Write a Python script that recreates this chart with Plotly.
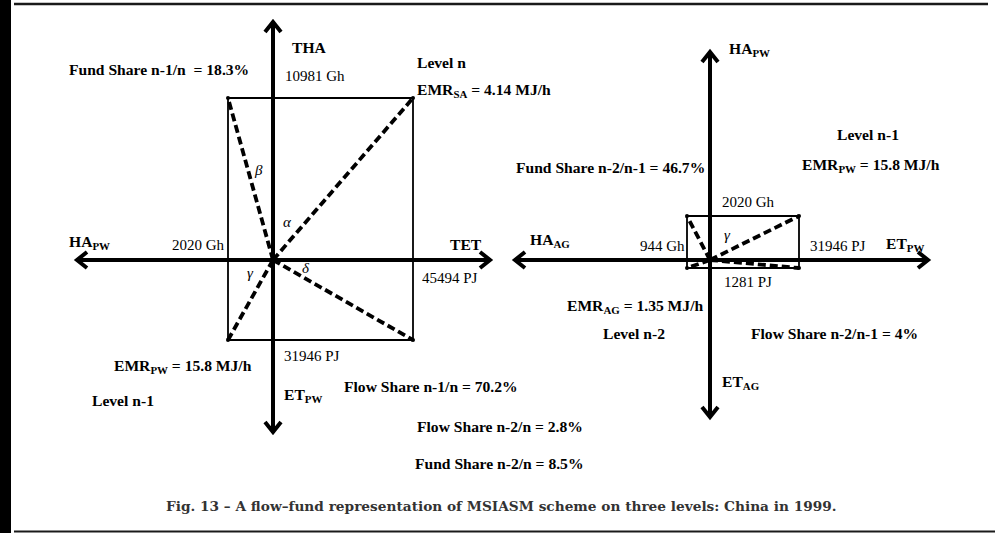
import plotly.graph_objects as go

# ---- data -------------------------------------------------------------
# Box half-lengths on each diagram, ordered West, East, North, South
LEFT_BOX = [45, 140, 162, 80]
LEFT_BOX_LABELS = ["2020 Gh", "45494 PJ", "10981 Gh", "31946 PJ"]
RIGHT_BOX = [23, 89, 44, 8]
RIGHT_BOX_LABELS = ["944 Gh", "31946 PJ", "2020 Gh", "1281 PJ"]

LEFT_AXIS_NAMES = ["HA<sub>PW</sub>", "TET", "THA", "ET<sub>PW</sub>"]
RIGHT_AXIS_NAMES = ["HA<sub>AG</sub>", "ET<sub>PW</sub>", "HA<sub>PW</sub>", "ET<sub>AG</sub>"]

EMR_LABELS = ["EMR<sub>SA</sub> = 4.14 MJ/h",
              "EMR<sub>PW</sub> = 15.8 MJ/h",
              "EMR<sub>AG</sub> = 1.35 MJ/h"]
LEVEL_LABELS = ["Level n", "Level n-1", "Level n-2"]
SHARE_LABELS = ["Fund Share n-1/n  = 18.3%",
                "Flow Share n-1/n = 70.2%",
                "Flow Share n-2/n = 2.8%",
                "Fund Share n-2/n = 8.5%",
                "Fund Share n-2/n-1 = 46.7%",
                "Flow Share n-2/n-1 = 4%"]
CAPTION = ("Fig. 13 \u2013 A flow\u2013fund representation of MSIASM scheme "
           "on three levels: China in 1999.")

# ---- styling ----------------------------------------------------------
SERIF = "Liberation Serif"
FS_BOLD = 15.6
FS = 15
W, H = 995, 533
HEAD_LEN, HEAD_HALF = 10, 8   # chevron arrow-head size (axis units = px)

fig = go.Figure()


def line(xs, ys, xr, yr, width, dash=None):
    fig.add_trace(go.Scatter(
        x=xs, y=ys, mode="lines",
        line=dict(color="black", width=width, dash=dash),
        xaxis=xr, yaxis=yr, hoverinfo="skip"))


def box_diagram(box, xr, yr):
    w, e, n, s = box
    # rectangle
    line([-w, e, e, -w, -w], [n, n, -s, -s, n], xr, yr, 1.8)
    # dashed rays from origin to the corners
    for cx, cy in [(-w, n), (e, n), (-w, -s), (e, -s)]:
        line([0, cx], [0, cy], xr, yr, 3.8, dash="8px,4px")
    fig.add_trace(go.Scatter(
        x=[-w, e, -w, e], y=[n, n, -s, -s], mode="markers",
        marker=dict(color="black", size=4), xaxis=xr, yaxis=yr,
        hoverinfo="skip"))


def axis_arrows(arms, xr, yr):
    w, e, n, s = arms
    line([-w, e], [0, 0], xr, yr, 4)
    line([0, 0], [-s, n], xr, yr, 4)
    # open chevron heads at the four ends
    for tx, ty, dx, dy in [(-w, 0, -1, 0), (e, 0, 1, 0),
                           (0, n, 0, 1), (0, -s, 0, -1)]:
        bx, by = tx - dx * HEAD_LEN, ty - dy * HEAD_LEN
        px, py = -dy * HEAD_HALF, dx * HEAD_HALF
        line([bx + px, tx, bx - px], [by + py, ty, by - py], xr, yr, 4)


def label(txt, x, y, xr, yr, anchor="left", bold=True, italic=False):
    size = FS_BOLD if bold else FS
    if bold:
        txt = "<b>" + txt + "</b>"
    if italic:
        txt = "<i>" + txt + "</i>"
    fig.add_annotation(
        x=x, y=y, xref=xr, yref=yr, text=txt, showarrow=False,
        xanchor=anchor, yanchor="middle",
        font=dict(family=SERIF, size=size, color="black"))


# ---- left diagram: levels n and n-1 ------------------------------------
box_diagram(LEFT_BOX, "x", "y")
axis_arrows([196, 217, 238, 172], "x", "y")

label(LEFT_AXIS_NAMES[2], 17, 213, "x", "y")
label(LEFT_BOX_LABELS[2], 10, 184, "x", "y", bold=False)
label(SHARE_LABELS[0], -206, 191, "x", "y")
label(LEVEL_LABELS[0], 142, 198, "x", "y")
label(EMR_LABELS[0], 142, 170, "x", "y")
label("\u03b2", -15, 90, "x", "y", anchor="center", bold=False, italic=True)
label("\u03b1", 14, 38, "x", "y", anchor="center", bold=False, italic=True)
label(LEFT_AXIS_NAMES[0], -206, 18, "x", "y")
label(LEFT_BOX_LABELS[0], -103, 15, "x", "y", bold=False)
label(LEFT_AXIS_NAMES[1], 175, 16, "x", "y")
label("\u03b3", -23, -13, "x", "y", anchor="center", bold=False, italic=True)
label("\u03b4", 33, -8, "x", "y", anchor="center", bold=False, italic=True)
label(LEFT_BOX_LABELS[1], 147, -18, "x", "y", bold=False)
label(LEFT_BOX_LABELS[3], 9, -96, "x", "y", bold=False)
label(EMR_LABELS[1], -161, -106, "x", "y")
label(LEVEL_LABELS[1], -183, -140, "x", "y")
label(LEFT_AXIS_NAMES[3], 9, -135, "x", "y")
label(SHARE_LABELS[1], 69, -126, "x", "y")
label(SHARE_LABELS[2], 142, -166, "x", "y")
label(SHARE_LABELS[3], 140, -203, "x", "y")

# ---- right diagram: levels n-1 and n-2 ---------------------------------
box_diagram(RIGHT_BOX, "x2", "y2")
axis_arrows([195, 218, 208, 157], "x2", "y2")

label(RIGHT_AXIS_NAMES[2], 17, 211, "x2", "y2")
label(LEVEL_LABELS[1], 125, 126, "x2", "y2")
label(EMR_LABELS[1], 90, 95, "x2", "y2")
label(SHARE_LABELS[4], -196, 93, "x2", "y2")
label(RIGHT_BOX_LABELS[2], 10, 58, "x2", "y2", bold=False)
label(RIGHT_AXIS_NAMES[0], -182, 20, "x2", "y2")
label(RIGHT_BOX_LABELS[0], -72, 14, "x2", "y2", bold=False)
label("\u03b3", 17, 25, "x2", "y2", anchor="center", bold=False, italic=True)
label(RIGHT_BOX_LABELS[1], 98, 14, "x2", "y2", bold=False)
label(RIGHT_AXIS_NAMES[1], 174, 16, "x2", "y2")
label(RIGHT_BOX_LABELS[3], 12, -22, "x2", "y2", bold=False)
label(EMR_LABELS[2], -145, -46, "x2", "y2")
label(LEVEL_LABELS[2], -109, -73, "x2", "y2")
label(SHARE_LABELS[5], 39, -73, "x2", "y2")
label(RIGHT_AXIS_NAMES[3], 10, -122, "x2", "y2")

# ---- caption -----------------------------------------------------------
fig.add_annotation(
    x=501 / W, y=1 - 506 / H, xref="paper", yref="paper",
    text="<b>" + CAPTION + "</b>", showarrow=False,
    xanchor="center", yanchor="middle",
    font=dict(family="DejaVu Serif", size=13.7, color="#333333"))

# ---- page frame --------------------------------------------------------
fig.add_shape(type="rect", xref="paper", yref="paper",
              x0=0, x1=11 / W, y0=0, y1=1,
              fillcolor="black", line=dict(width=0), layer="above")
fig.add_shape(type="line", xref="paper", yref="paper",
              x0=14 / W, x1=988 / W, y0=1 - 4 / H, y1=1 - 4 / H,
              line=dict(color="#1a1a1a", width=2.5))
fig.add_shape(type="line", xref="paper", yref="paper",
              x0=14 / W, x1=1, y0=1 - 531.5 / H, y1=1 - 531.5 / H,
              line=dict(color="#1a1a1a", width=2))

hidden = dict(visible=False, showgrid=False, zeroline=False, fixedrange=True)
fig.update_layout(
    width=W, height=H,
    margin=dict(l=0, r=0, t=0, b=0),
    paper_bgcolor="white", plot_bgcolor="white",
    showlegend=False,
    xaxis=dict(domain=[0, 0.5], range=[-273, 224.5], **hidden),
    yaxis=dict(domain=[0, 1], range=[-273, 260], **hidden),
    xaxis2=dict(domain=[0.5, 1], range=[-212.5, 285], anchor="y2", **hidden),
    yaxis2=dict(domain=[0, 1], range=[-273, 260], anchor="x2", **hidden),
)

fig.write_html("out.html")
